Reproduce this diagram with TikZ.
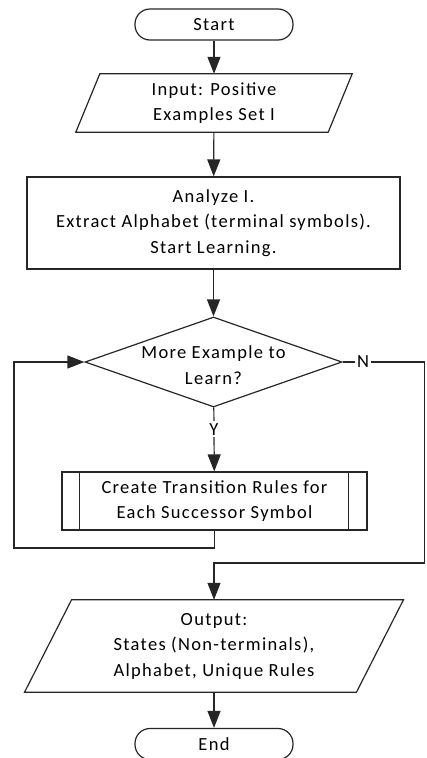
\documentclass[tikz,border=0pt]{standalone}
\usepackage{fontspec}
\setmainfont[LetterSpace=7]{Carlito}
\usetikzlibrary{arrows.meta,shapes.geometric}

\begin{document}
\begin{tikzpicture}[x=1pt,y=1pt,yscale=-1,xscale=1,
  font=\fontsize{18.5}{25.5}\selectfont,
  line/.style={draw=black!85, line width=1.2pt},
  flow/.style={line, -{Triangle[length=17pt,width=13pt]}},
  box/.style={line, align=center, inner sep=0pt},
  term/.style={box, rounded corners=15pt, minimum width=158, minimum height=31},
  iobox/.style={align=center, inner sep=0pt},
  decision/.style={line, diamond, inner sep=0pt, minimum width=257, minimum height=90},
  lbl/.style={fill=white, inner sep=2pt}]
\useasboundingbox (0,0) rectangle (426,758);

%Terminator
\node[term] (start) at (214,24.5) {Start};
%Data: input
\node[iobox, minimum width=252, minimum height=58] (inp) at (214,103) {Input: Positive\\Examples Set I};
\draw[line] ([xshift=12]inp.north west) -- ([xshift=12]inp.north east) -- ([xshift=-12]inp.south east) -- ([xshift=-12]inp.south west) -- cycle;
%Process
\node[box, minimum width=373, minimum height=92] (ana) at (213.5,223) {Analyze I.\\Extract Alphabet (terminal symbols).\\Start Learning.};
%Decision
\node[decision] (dec) at (213.5,362) {};
\node[align=center, inner sep=0pt] (dectext) at (213.5,365) {More Example to\\Learn?};
%Predefined process
\node[box, minimum width=305, minimum height=58] (proc) at (214.5,501) {Create Transition Rules for\\Each Successor Symbol};
\draw[line] ([xshift=18]proc.north west) -- ([xshift=18]proc.south west);
\draw[line] ([xshift=-19]proc.north east) -- ([xshift=-19]proc.south east);
%Data: output
\node[iobox, minimum width=331.5, minimum height=92] (out) at (214,646) {Output:\\States (Non-terminals),\\Alphabet, Unique Rules};
\draw[line] ([xshift=23.5]out.north west) -- ([xshift=23.5]out.north east) -- ([xshift=-23.5]out.south east) -- ([xshift=-23.5]out.south west) -- cycle;
%Terminator
\node[term] (end) at (214,744) {End};

%Corners of the two loops
\coordinate (rtop) at (424.5,362);
\coordinate (rbot) at (424.5,563);
\coordinate (lbot) at (14,548);
\coordinate (ltop) at (14,362);

%Straight Lines
\draw[flow] (start) -- (inp);
\draw[flow] (inp) -- (ana);
\draw[flow] (ana) -- (dec);
\draw[flow] (dec) -- node[lbl, pos=0.34] (ylbl) {Y} (proc);
\draw[flow] (dec.east) -- node[lbl, pos=0.25] (nlbl) {N} (rtop) -- (rbot) -| (out.north);
\draw[flow] (proc.south) |- (lbot) -- (ltop) -- (dec.west);
\draw[flow] (out) -- (end);

\end{tikzpicture}
\end{document}
